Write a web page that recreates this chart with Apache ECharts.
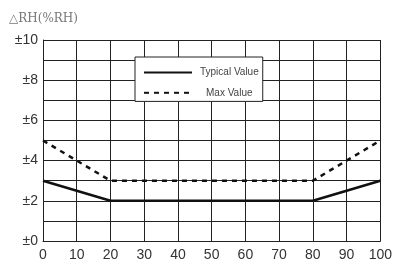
<!DOCTYPE html>
<html><head><meta charset="utf-8">
<script src="https://cdn.jsdelivr.net/npm/echarts@6/dist/echarts.min.js"></script>
<style>html,body{margin:0;padding:0;background:#fff}#c{width:395px;height:264px}</style>
</head><body><div id="c"></div>
<script>
const humidity = [0, 20, 80, 100];
const typicalValue = [3, 2, 2, 3];
const maxValue = [5, 3, 3, 5];
const xTicks = [0,10,20,30,40,50,60,70,80,90,100];

const chart = echarts.init(document.getElementById('c'));
chart.setOption({
  animation: false,
  title: {
    text: '△RH(%RH)', left: 4, top: 8,
    textStyle: {fontFamily: 'DejaVu Serif', fontSize: 12, fontWeight: 'normal', color: '#777'}
  },
  grid: {left: 43, right: 13, top: 40, bottom: 23},
  legend: {
    orient: 'vertical', left: 135, top: 57,
    backgroundColor: '#fff', borderColor: '#222', borderWidth: 1,
    padding: [10, 4, 3, 8], itemGap: 9, itemWidth: 48, itemHeight: 14,
    itemStyle: {opacity: 0},
    textStyle: {fontFamily: 'Liberation Sans', fontSize: 10, color: '#444', padding: [0,0,0,3]},
    data: [{name: 'Typical Value'}, {name: 'Max Value', textStyle: {padding: [0,0,0,9]}}]
  },
  xAxis: {
    type: 'value', min: 0, max: 100, interval: 10,
    axisLine: {lineStyle: {color: '#222', width: 1}},
    axisTick: {show: false},
    axisLabel: {fontFamily: 'Liberation Sans', fontSize: 14, color: '#333', margin: 7,
      formatter: v => xTicks.includes(v) ? String(v) : ''},
    splitLine: {show: true, lineStyle: {color: '#222', width: 1}}
  },
  yAxis: {
    type: 'value', min: 0, max: 10, interval: 1,
    axisLine: {show: true, lineStyle: {color: '#222', width: 1}},
    axisTick: {show: false},
    axisLabel: {fontFamily: 'Liberation Sans', fontSize: 14, color: '#333', margin: 5,
      formatter: v => v % 2 === 0 ? '±' + v : ''},
    splitLine: {show: true, lineStyle: {color: '#222', width: 1}}
  },
  series: [
    {name: 'Typical Value', type: 'line', symbol: 'none', z: 3,
     data: humidity.map((x,i)=>[x, typicalValue[i]]),
     lineStyle: {color: '#111', width: 2.5}, itemStyle: {color: '#111'}},
    {name: 'Max Value', type: 'line', symbol: 'none', z: 3,
     data: humidity.map((x,i)=>[x, maxValue[i]]),
     lineStyle: {color: '#111', width: 2.5, type: [5, 5]}, itemStyle: {color: '#111'}}
  ]
});
</script></body></html>
